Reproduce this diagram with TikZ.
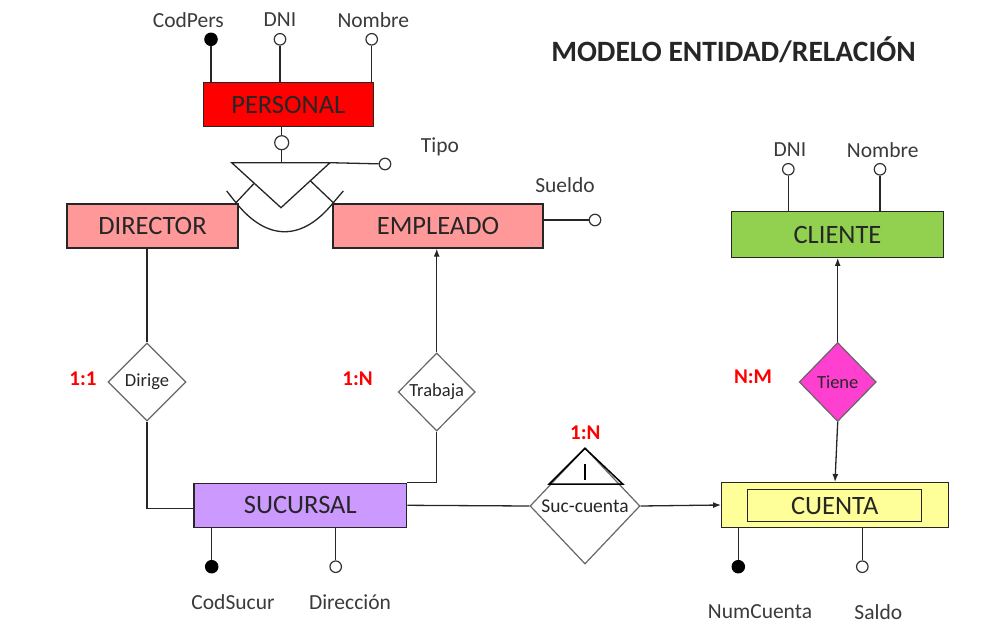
\documentclass[tikz,border=0pt]{standalone}
\usepackage{fontspec}
\setmainfont{Carlito}
\usetikzlibrary{shapes.geometric,arrows.meta}
\definecolor{cRed}{HTML}{FF0000}
\definecolor{cSalmon}{HTML}{FF9999}
\definecolor{cGreen}{HTML}{92D050}
\definecolor{cPurple}{HTML}{CC99FF}
\definecolor{cYellow}{HTML}{FFFF99}
\definecolor{cMag}{HTML}{FF3FCF}
\definecolor{cText}{HTML}{262626}
\definecolor{cLab}{HTML}{3A3A3A}
\begin{document}
\begin{tikzpicture}[x=1pt,y=-1pt,
  line width=1.3pt,
  ent/.style={draw=black!85, line width=1.3pt, minimum height=44pt, inner sep=0pt,
    font=\fontsize{26.5}{29}\selectfont, text=cText},
  rel/.style={diamond, draw=black!60, line width=1.2pt, inner sep=0pt, aspect=1,
    font=\fontsize{18.5}{20}\selectfont, text=cText},
  attk/.style={circle, draw=black, fill=black, inner sep=0pt, minimum size=12.5pt, line width=1pt},
  atto/.style={circle, draw=black!80, fill=white, inner sep=0pt, minimum size=11.5pt, line width=1.2pt},
  lab/.style={font=\fontsize{21.5}{24}\selectfont, text=cLab, inner sep=0pt},
  card/.style={font=\fontsize{21}{24}\bfseries\selectfont, text=cRed, inner sep=0pt},
  conn/.style={draw=black!85, line width=1.3pt},
  arr/.style={conn, -{Latex[length=8pt,width=6pt]}}
]
\useasboundingbox (0,0) rectangle (994,626);

% title
\node[font=\fontsize{29.5}{32}\bfseries\selectfont, text=cText, inner sep=0pt] (title) at (733.5,50) {MODELO ENTIDAD/RELACIÓN};

% entities
\node[ent, fill=cRed, minimum width=170pt] (personal) at (288.3,104.7) {PERSONAL};
\node[ent, fill=cSalmon, minimum width=171pt] (director) at (152.5,226) {DIRECTOR};
\node[ent, fill=cSalmon, minimum width=210pt] (empleado) at (438,226) {EMPLEADO};
\node[ent, fill=cGreen, minimum width=211.6pt, minimum height=45.6pt] (cliente) at (837.5,234.5) {CLIENTE};
\node[ent, fill=cPurple, minimum width=212.7pt] (sucursal) at (300.3,505.3) {SUCURSAL};
\node[ent, fill=cYellow, minimum width=226.6pt, minimum height=44.6pt] (cuenta) at (835,505) {};
\node[ent, fill=cYellow, minimum width=174pt, minimum height=32.4pt, line width=1.1pt] (cuentain) at (834.7,505.5) {CUENTA};

% relationships
\node[rel, minimum width=78pt, minimum height=78pt] (dirige) at (147,382) {Dirige};
\node[rel, minimum width=77pt, minimum height=78pt] (trabaja) at (436.7,392) {Trabaja};
\node[rel, fill=cMag, minimum width=77pt, minimum height=79pt] (tiene) at (837.7,382) {Tiene};
\node[rel, minimum width=110pt, minimum height=116pt, font=\fontsize{19.5}{21}\selectfont] (suc) at (585,506) {Suc-cuenta};

% cardinalities
\node[card] (c11) at (83,379) {1:1};
\node[card] (c1n) at (357.5,379) {1:N};
\node[card] (cnm) at (753,377) {N:M};
\node[card] (c1n2) at (585.3,433) {1:N};

% Suc-cuenta inner triangle
\coordinate (suctop) at (585,448.3);
\coordinate (suctl) at (549.3,484);
\coordinate (suctr) at (622.7,484);
\coordinate (sucit) at (585.3,464);
\coordinate (sucib) at (585.3,480);
\draw[black, line width=1.5pt] (suctl) -- (suctop) -- (suctr) -- cycle;
\draw[black, line width=2pt] (sucit) -- (sucib);

% PERSONAL attributes
\node[attk] (codpers) at (211,39.3) {};
\node[atto] (dnip) at (280,39.3) {};
\node[atto] (nombrep) at (371.7,39.3) {};
\draw[conn] (codpers) -- (codpers |- personal.north);
\draw[conn] (dnip) -- (dnip |- personal.north);
\draw[conn] (nombrep) -- (nombrep |- personal.north);
\node[lab] (lcodpers) at (188.3,20) {CodPers};
\node[lab] (ldnip) at (280,20) {DNI};
\node[lab] (lnombrep) at (373.3,20) {Nombre};

% ISA / specialisation
\node[atto, minimum size=14pt] (isac) at (281.7,142.7) {};
\coordinate (isatl) at (231.7,162.7);
\coordinate (isatr) at (330,162.7);
\coordinate (isatop) at (281.7,162.7);
\coordinate (isaap) at (281,207.7);
\draw[conn] (isac |- personal.south) -- (isac) -- (isatop);
\draw[conn, line join=miter] (isatl) -- (isatr) -- (isaap) -- cycle;
\node[atto] (tipo) at (385,164) {};
\draw[conn] (isatr) -- (tipo);
\node[lab] (ltipo) at (440,147) {Tipo};
\coordinate (arcl) at (236,202.7);
\coordinate (arcr) at (333.3,202.7);
\coordinate (tickl) at (226.7,191);
\coordinate (tickr) at (343.3,191);
\coordinate (perl) at (254,183.5);
\coordinate (perr) at (310,180.5);
\draw[conn] (tickl) -- (arcl) .. controls (267,241.4) and (302.3,241.4) .. (arcr) -- (tickr);
\draw[conn] (arcl) -- (perl);
\draw[conn] (arcr) -- (perr);

% EMPLEADO attribute
\node[atto] (sueldo) at (595,220) {};
\draw[conn] (empleado.east |- sueldo) -- (sueldo);
\node[lab] (lsueldo) at (565,185) {Sueldo};

% CLIENTE attributes
\node[atto] (dnic) at (788.3,169.3) {};
\node[atto] (nombrec) at (880,169.3) {};
\draw[conn] (dnic) -- (dnic |- cliente.north);
\draw[conn] (nombrec) -- (nombrec |- cliente.north);
\node[lab] (ldnic) at (790,150) {DNI};
\node[lab] (lnombrec) at (882.7,150) {Nombre};

% SUCURSAL attributes
\node[attk] (codsucur) at (211.7,566.7) {};
\node[atto] (direccion) at (335.7,566.7) {};
\draw[conn] (codsucur |- sucursal.south) -- (codsucur);
\draw[conn] (direccion |- sucursal.south) -- (direccion);
\node[lab] (lcodsucur) at (233,601.7) {CodSucur};
\node[lab] (ldireccion) at (350,601.7) {Dirección};

% CUENTA attributes
\node[attk] (numcuenta) at (738.3,566.7) {};
\node[atto] (saldo) at (862.3,566.7) {};
\draw[conn] (numcuenta |- cuenta.south) -- (numcuenta);
\draw[conn] (saldo |- cuenta.south) -- (saldo);
\node[lab] (lnumcuenta) at (760,611.7) {NumCuenta};
\node[lab] (lsaldo) at (878.3,611.7) {Saldo};

% relationship connectors
\draw[conn] (dirige.north |- director.south) -- (dirige.north);
\draw[conn] (dirige.south) |- ([yshift=-3pt]sucursal.west);
\draw[arr] (trabaja.north) -- (trabaja.north |- empleado.south);
\draw[conn] (trabaja.south) |- (sucursal.north east);
\draw[conn] (sucursal.east) -- (suc.west);
\draw[arr] (suc.east) -- (cuenta.west);
\draw[arr] (tiene.north) -- (tiene.north |- cliente.south);
\draw[arr] (tiene.south) -- (cuenta.north);
\end{tikzpicture}
\end{document}
